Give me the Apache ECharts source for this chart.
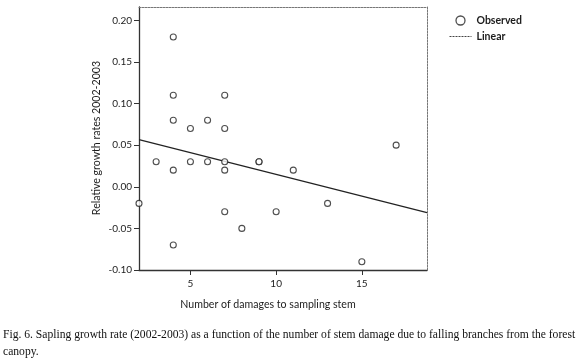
<!DOCTYPE html>
<html>
<head>
<meta charset="utf-8">
<script src="https://cdn.jsdelivr.net/npm/echarts@6/dist/echarts.min.js"></script>
<style>
  html, body { margin: 0; padding: 0; background: #fff; }
  #chart { width: 580px; height: 363px; }
</style>
</head>
<body>
<div id="chart"></div>
<script>
// observed saplings: number of damages vs relative growth rate
const obsX = [2, 3, 4, 4, 4, 4, 4, 5, 5, 6, 6, 7, 7, 7, 7, 7, 8, 9, 9, 10, 11, 13, 15, 17]
const obsY = [-0.02, 0.03, 0.18, 0.11, 0.08, 0.02, -0.07, 0.07, 0.03, 0.08, 0.03, 0.11, 0.07, 0.03, 0.02, -0.03, -0.05, 0.03, 0.03, -0.03, 0.02, -0.02, -0.09, 0.05]
// linear fit, read at both ends of the plot
const lineX = [2, 18.8]
const lineY = [0.0566, -0.031]
const xTicks = [5, 10, 15]
const yTicks = [-0.10, -0.05, 0.00, 0.05, 0.10, 0.15, 0.20]

const sans = 'Lato'
const ink = '#1c1c1c'

const axisLine = { show: true, onZero: false, lineStyle: { color: '#333', width: 1.3 } }
const dotLine = { show: true, onZero: false, lineStyle: { color: '#777', width: 1, type: [2, 1] } }

const option = {
  backgroundColor: '#fff',
  animation: false,
  grid: { left: 139, right: 153, top: 7, bottom: 93 },
  legend: {
    orient: 'vertical',
    left: 444,
    top: 10,
    itemWidth: 22,
    itemHeight: 9,
    itemGap: 5,
    textStyle: { fontFamily: sans, fontSize: 10.5, color: ink, fontWeight: 'bold' },
    data: [
      { name: 'Observed', icon: 'circle', itemStyle: { color: '#fff', borderColor: '#222', borderWidth: 1.3 } },
      { name: 'Linear', itemStyle: { opacity: 0 }, lineStyle: { color: '#444', width: 1, type: [2, 1] } }
    ]
  },
  xAxis: [{
    type: 'value',
    min: 2,
    max: 18.8,
    axisLine,
    axisTick: { show: true, length: 5, lineStyle: { color: '#333' }, customValues: xTicks },
    axisLabel: {
      customValues: xTicks,
      margin: 9,
      fontFamily: sans,
      fontSize: 10,
      color: ink,
      formatter: v => String(v)
    },
    splitLine: { show: false }
  }, {
    type: 'value',
    position: 'top',
    min: 2,
    max: 18.8,
    axisLine: dotLine,
    axisTick: { show: false },
    axisLabel: { show: false },
    splitLine: { show: false }
  }],
  yAxis: [{
    type: 'value',
    min: -0.10,
    max: 0.216,
    axisLine,
    axisTick: { show: true, length: 5, lineStyle: { color: '#333' }, customValues: yTicks },
    axisLabel: {
      customValues: yTicks,
      margin: 7,
      fontFamily: sans,
      fontSize: 10,
      color: ink,
      formatter: v => v.toFixed(2)
    },
    splitLine: { show: false }
  }, {
    type: 'value',
    position: 'right',
    min: -0.10,
    max: 0.216,
    axisLine: dotLine,
    axisTick: { show: false },
    axisLabel: { show: false },
    splitLine: { show: false }
  }],
  series: [
    {
      name: 'Observed',
      type: 'scatter',
      symbol: 'circle',
      symbolSize: 6,
      itemStyle: { color: '#fff', borderColor: '#222', borderWidth: 1.1 },
      data: obsX.map((x, i) => [x, obsY[i]]),
      z: 3
    },
    {
      name: 'Linear',
      type: 'line',
      symbol: 'none',
      color: '#222',
      lineStyle: { color: '#222', width: 1.2 },
      data: lineX.map((x, i) => [x, lineY[i]]),
      z: 2
    }
  ],
  graphic: [
    {
      type: 'text',
      x: 268,
      y: 305,
      style: { text: 'Number of damages to sampling stem', font: '10.6px ' + sans, fill: ink, align: 'center', verticalAlign: 'middle' }
    },
    {
      type: 'text',
      x: 97,
      y: 138,
      rotation: Math.PI / 2,
      style: { text: 'Relative growth rates 2002-2003', font: '10.6px ' + sans, fill: ink, align: 'center', verticalAlign: 'middle' }
    },
    {
      type: 'text',
      x: 3,
      y: 335,
      style: {
        text: 'Fig. 6. Sapling growth rate (2002-2003) as a function of the number of stem damage due to falling branches from the forest',
        font: '11.6px "Liberation Serif"',
        fill: '#111',
        verticalAlign: 'middle'
      }
    },
    {
      type: 'text',
      x: 3,
      y: 352,
      style: { text: 'canopy.', font: '11.6px "Liberation Serif"', fill: '#111', verticalAlign: 'middle' }
    }
  ]
}

const myChart = echarts.init(document.getElementById('chart'))
myChart.setOption(option)
</script>
</body>
</html>
